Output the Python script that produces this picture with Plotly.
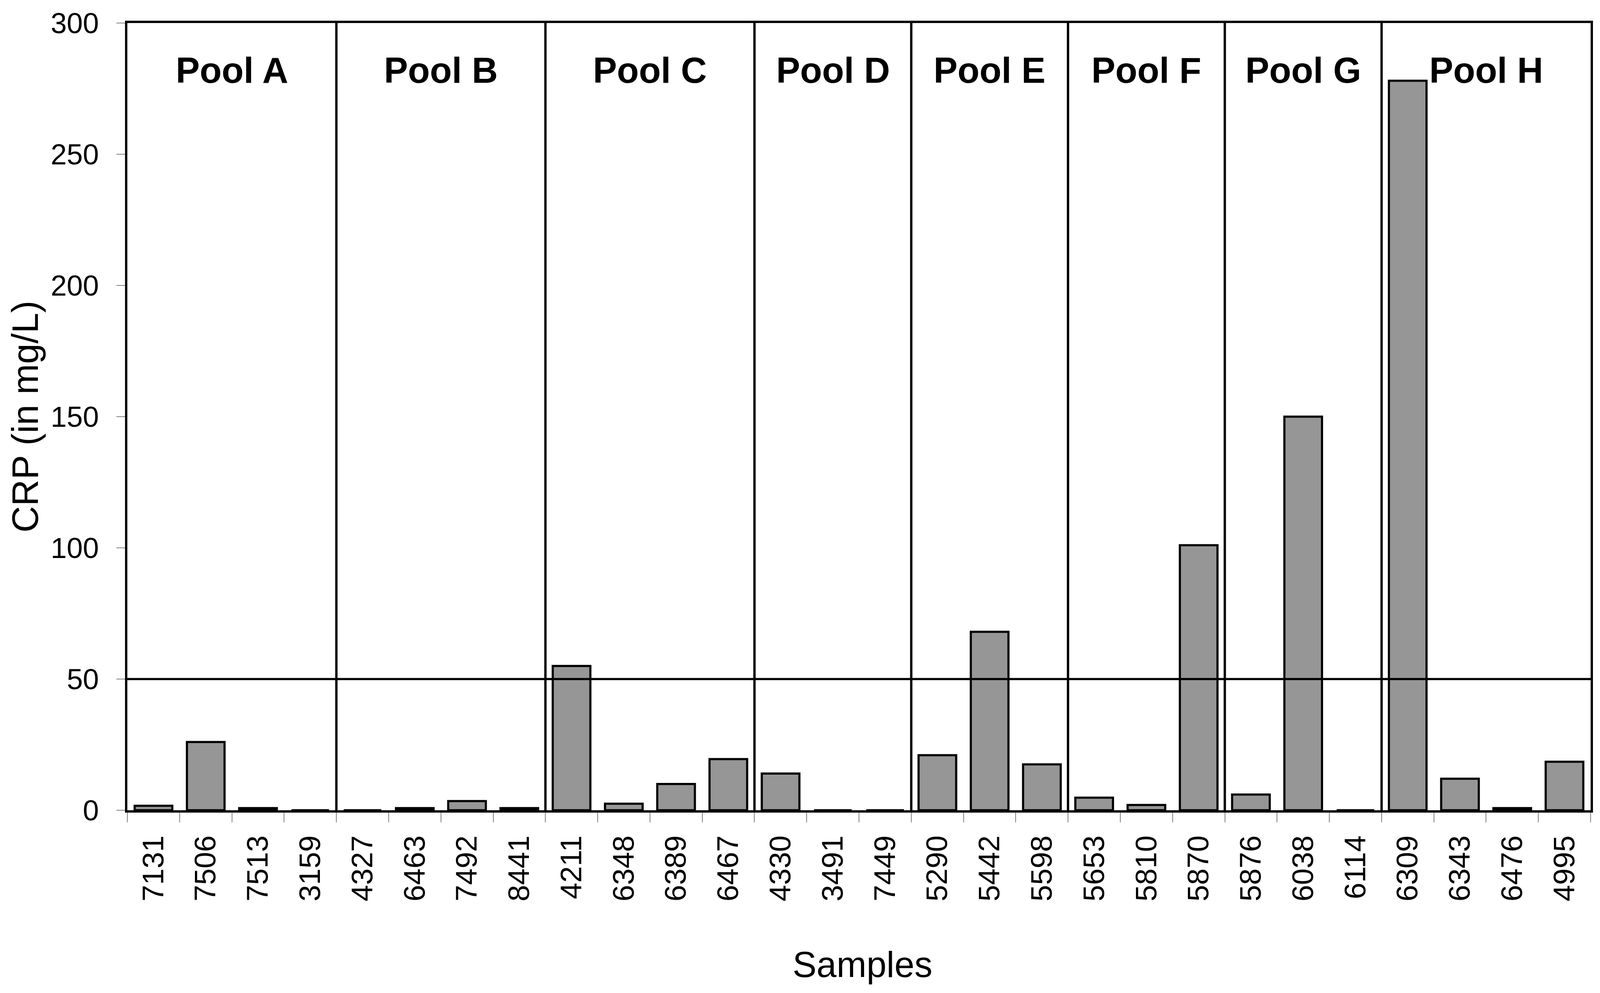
import plotly.graph_objects as go

# ---- data ----
pools = ["Pool A", "Pool B", "Pool C", "Pool D", "Pool E", "Pool F", "Pool G", "Pool H"]
pool_sizes = [4, 4, 4, 3, 3, 3, 3, 4]
samples = ["7131", "7506", "7513", "3159",
           "4327", "6463", "7492", "8441",
           "4211", "6348", "6389", "6467",
           "4330", "3491", "7449",
           "5290", "5442", "5598",
           "5653", "5810", "5870",
           "5876", "6038", "6114",
           "6309", "6343", "6476", "4995"]
crp = [1.7, 26, 0.8, 0,
       0, 0.8, 3.5, 0.8,
       55, 2.5, 10, 19.5,
       14, 0, 0,
       21, 68, 17.5,
       4.8, 2, 101,
       6, 150, 0,
       278, 12, 0.8, 18.5]
threshold = 50
y_ticks = [0, 50, 100, 150, 200, 250, 300]

FONT = "Liberation Sans, Arial, sans-serif"

fig = go.Figure()
fig.add_trace(go.Bar(
    x=samples, y=crp, width=0.72,
    marker=dict(color="#969696", line=dict(color="black", width=5.5)),
    showlegend=False,
))

shapes = []
annotations = []
start = 0
for i, (name, n) in enumerate(zip(pools, pool_sizes)):
    center = start + (n - 1) / 2
    annotations.append(dict(
        x=center, y=282, xref="x", yref="y", text="<b>%s</b>" % name,
        showarrow=False, font=dict(family=FONT, size=92, color="black"),
        xanchor="center", yanchor="middle"))
    if i > 0:
        shapes.append(dict(type="line", xref="x", yref="y",
                           x0=start - 0.5, x1=start - 0.5, y0=0, y1=300,
                           line=dict(color="black", width=6)))
    start += n

shapes.append(dict(type="line", xref="paper", yref="y", x0=0, x1=1,
                   y0=threshold, y1=threshold, line=dict(color="black", width=5.5)))

annotations.append(dict(x=-0.070, y=0.5, xref="paper", yref="paper",
                        text="CRP (in mg/L)", textangle=-90, showarrow=False,
                        font=dict(family=FONT, size=94, color="black"),
                        xanchor="center", yanchor="middle"))
annotations.append(dict(x=0.5024, y=-0.196, xref="paper", yref="paper",
                        text="Samples", showarrow=False,
                        font=dict(family=FONT, size=92, color="black"),
                        xanchor="center", yanchor="middle"))

fig.update_layout(
    width=4080, height=2527,
    margin=dict(l=318, r=10, t=25, b=460),
    paper_bgcolor="white", plot_bgcolor="white",
    shapes=shapes, annotations=annotations,
    bargap=0.28,
    font=dict(family=FONT, color="black"),
)
fig.update_xaxes(
    type="category", range=[-0.5, len(samples) - 0.5],
    tickangle=-90, tickson="boundaries", ticks="outside", ticklen=25,
    tickwidth=2, tickcolor="#808080",
    tickfont=dict(family=FONT, size=76, color="black"),
    ticklabelstandoff=28,
    showline=True, linewidth=6, linecolor="black", mirror=True,
    showgrid=False, zeroline=False,
)
fig.update_yaxes(
    range=[0, 300], tickvals=y_ticks, ticks="outside", ticklen=22,
    tickwidth=2, tickcolor="#808080",
    tickfont=dict(family=FONT, size=74, color="black"),
    ticklabelstandoff=30, ticklabeloverflow="allow",
    showline=True, linewidth=6, linecolor="black", mirror=True,
    showgrid=False, zeroline=False,
)

fig.write_html("out.html")
